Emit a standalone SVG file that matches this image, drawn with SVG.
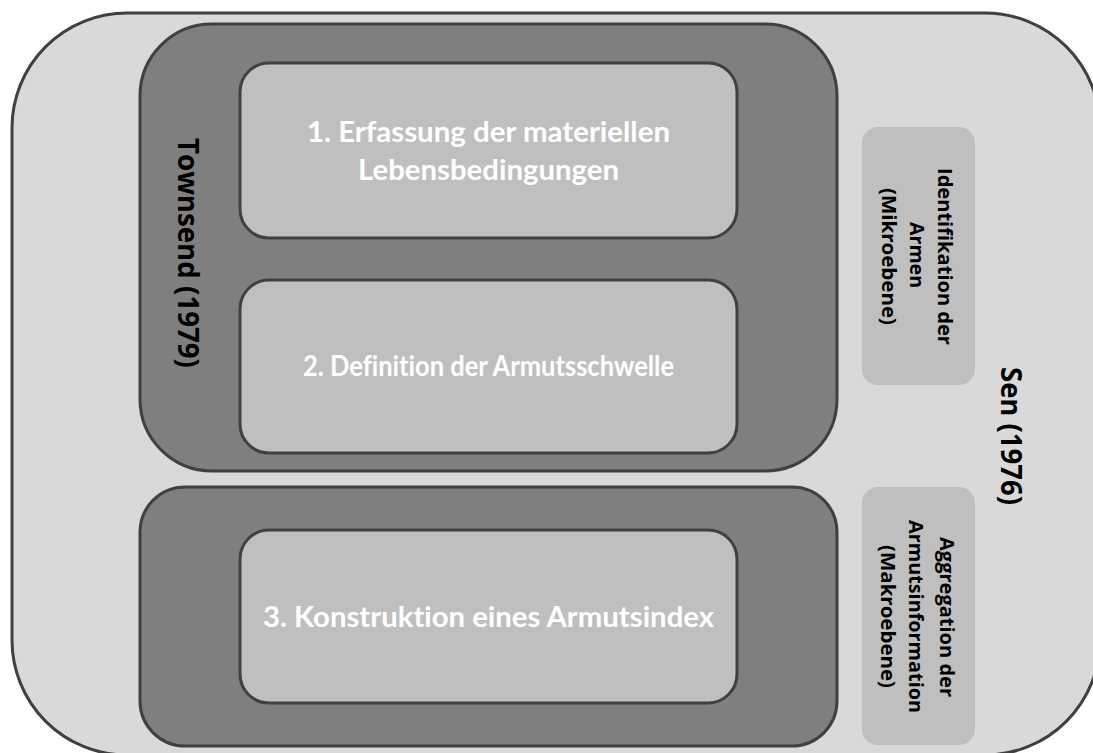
<svg xmlns="http://www.w3.org/2000/svg" width="1093" height="753" viewBox="0 0 1093 753">
<style>
.outer{fill:#d9d9d9;stroke:#404040;stroke-width:3}
.dark{fill:#7f7f7f;stroke:#404040;stroke-width:3}
.inner{fill:#bfbfbf;stroke:#404040;stroke-width:3}
.side{fill:#bfbfbf;stroke:none}
.wt{font-family:Lato,"Liberation Sans",sans-serif;font-weight:bold;font-size:28px;fill:#ffffff;text-anchor:middle;font-variant-ligatures:none;font-feature-settings:"liga" 0,"clig" 0,"dlig" 0}
.vt{font-family:"Open Sans","Liberation Sans",sans-serif;font-weight:bold;fill:#000000;text-anchor:middle;font-variant-ligatures:none}
</style>
<rect width="1093" height="753" fill="#ffffff"/>
<g id="sen">
<rect class="outer" x="12" y="13" width="1088" height="742" rx="115" ry="115"/>
<text class="vt" font-size="28" transform="translate(1001,436) rotate(90)" textLength="138" lengthAdjust="spacingAndGlyphs">Sen (1976)</text>
</g>
<g id="townsend">
<rect class="dark" x="140" y="24" width="697" height="447" rx="72" ry="72"/>
<text class="vt" font-size="28" transform="translate(178,253) rotate(90)" textLength="230" lengthAdjust="spacingAndGlyphs">Townsend (1979)</text>
</g>
<g id="step1">
<rect class="inner" x="240" y="63" width="497" height="175" rx="29" ry="29"/>
<text class="wt" x="488.5" y="142" textLength="363" lengthAdjust="spacingAndGlyphs">1. Erfassung der materiellen</text>
<text class="wt" x="488.5" y="180" textLength="261" lengthAdjust="spacingAndGlyphs">Lebensbedingungen</text>
</g>
<g id="step2">
<rect class="inner" x="240" y="280" width="497" height="173" rx="29" ry="29"/>
<text class="wt" x="488.5" y="376" textLength="371" lengthAdjust="spacingAndGlyphs">2. Definition der Armutsschwelle</text>
</g>
<g id="macro-group">
<rect class="dark" x="140" y="487" width="697" height="259" rx="45" ry="45"/>
</g>
<g id="step3">
<rect class="inner" x="240" y="530" width="497" height="173" rx="29" ry="29"/>
<text class="wt" x="488.5" y="627" textLength="451" lengthAdjust="spacingAndGlyphs">3. Konstruktion eines Armutsindex</text>
</g>
<g id="mikro">
<rect class="side" x="862" y="127" width="113" height="258" rx="16" ry="16"/>
<text class="vt" font-size="19" transform="translate(938,256.5) rotate(90)" textLength="177" lengthAdjust="spacingAndGlyphs">Identifikation der</text>
<text class="vt" font-size="19" transform="translate(910,255) rotate(90)" textLength="66" lengthAdjust="spacingAndGlyphs">Armen</text>
<text class="vt" font-size="19" transform="translate(882,256.5) rotate(90)" textLength="137" lengthAdjust="spacingAndGlyphs">(Mikroebene)</text>
</g>
<g id="makro">
<rect class="side" x="862" y="487" width="113" height="258" rx="16" ry="16"/>
<text class="vt" font-size="19" transform="translate(940,617) rotate(90)" textLength="160" lengthAdjust="spacingAndGlyphs">Aggregation der</text>
<text class="vt" font-size="19" transform="translate(909,616.5) rotate(90)" textLength="193" lengthAdjust="spacingAndGlyphs">Armutsinformation</text>
<text class="vt" font-size="19" transform="translate(881,616.5) rotate(90)" textLength="143" lengthAdjust="spacingAndGlyphs">(Makroebene)</text>
</g>
<g id="connectors"></g>
</svg>
